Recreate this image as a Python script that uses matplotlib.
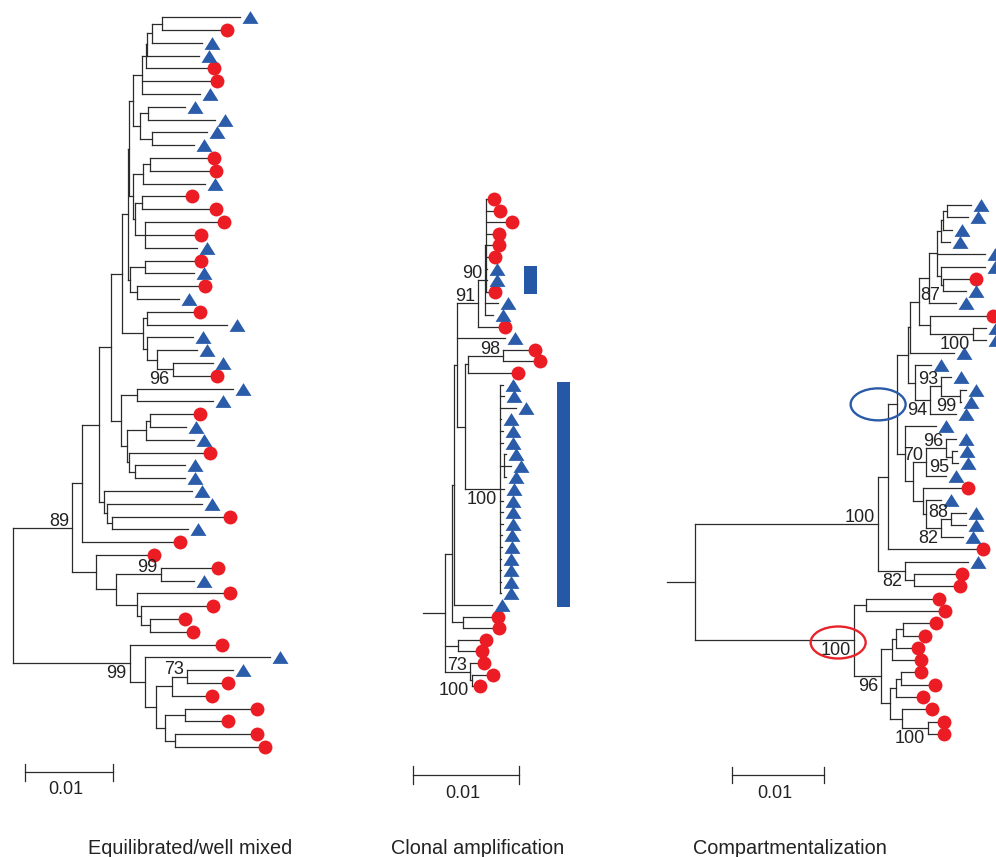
import matplotlib
matplotlib.use("Agg")
import matplotlib.pyplot as plt
from matplotlib.collections import LineCollection
from matplotlib.patches import Ellipse, Rectangle
from matplotlib.transforms import ScaledTranslation

# --- data -------------------------------------------------------------
# Newick trees, leaves named by compartment (R = red circle, B = blue triangle),
# internal labels = bootstrap support, branch lengths in units of 0.001 subst./site
BRANCH_UNIT = 0.001

TREE1 = (
    "((((((((("
    "(((((B:8.9,R:6.63):1.14,B:5.68):0.57,B:5.95):0.11,R:6.93):0.45,R:7.77,B:6.63):1.02,"
    "((B:4.17,B:7.58):0.95,(B:6.33,B:4.81):1.33):0.83):0.38,"
    "(((R:6.52,R:6.74):0.83,B:7.08):1.14,((R:4.92,R:7.69):0.76,(R:8.14,R:5.57,B:5.87):1.14):0.27):0.38"
    "):0.19,"
    "((R:5.57,B:5.57):1.70,(R:6.93,B:4.73):0.83):0.27"
    "):0.68,"
    "((R:5.30,B:9.09):0.45,(B:5.30,(B:4.55,(B:4.62,R:4.24)96:1.82):1.14):0.45):2.39"
    "):1.21,"
    "((B:10.9,B:8.64):1.89,(((R:4.92,B:4.09):0.49,B:5.49):2.16,(R:8.33,(B:5.68,B:5.68):0.64):0.30):0.68):1.10"
    "):1.33,"
    "(B:9.96,(B:10.8,(R:12.7,B:8.71):0.57):0.30):0.53"
    "):1.93,"
    "R:10.3):1.17,"
    "(R:5.76,((R:5.68,B:3.79)99:5.11,(R:9.77,(R:7.42,(R:3.22,R:4.09):1.06):0.45):2.39):2.23):2.73"
    ")89:6.74,"
    "(R:9.66,(B:14.2,(((B:5.19,R:3.86)73:1.70,R:3.67):1.89,((R:7.39,R:4.17):2.27,"
    "(R:8.52,R:9.47):1.14):1.02):1.25):1.70)99:13.3"
    ");"
)

TREE2 = (
    "(((("
    "(("
    "(R:0.09,R:0.66,R:1.82,R:0.63,R:0.63,R:0.25,B:0.1,B:0.1,R:0.25):0.06,B:1.26,B:0.72)90:0.63,R:1.89)91:2.04,"
    "B:4.56,"
    "(((R:2.36,R:2.83)98:3.30,R:3.99):0.31,"
    "(B:0.28,B:0.38,B:1.51,B:0.05,B:0.28,B:0.28,(B:0.19,B:0.66,B:0.19):0.38,B:0.38,B:0.28,"
    "B:0.28,B:0.28,B:0.19,B:0.19,B:0.05,B:0.05,B:0.05,B:0.05)100:3.30):0.79"
    "):0.22,"
    "B:3.52):0.25,"
    "(R:2.58,R:2.67):1.10):0.63,"
    "(R:2.04,R:1.64):1.19,"
    "(R:0.63,(R:1.35,R:0.09)100:0.16)73:2.36"
    "):2.04;"
)

TREE3 = (
    "(((((("
    "((("
    "(((B:2.64,B:2.28):0.43,B:1.01):0.18,B:0.91):0.54,"
    "B:5.25,"
    "(B:4.71,(R:2.83,B:2.54)87:0.18):0.54"
    "):0.80,"
    "B:2.97):1.09,"
    "(R:6.01,(B:1.45,B:1.45)100:4.64):1.23"
    "):1.01,"
    "B:4.78):0.18,"
    "(B:1.74,((B:1.09,(B:0.65,B:0.18)99:1.99)93:1.20,B:2.75)94:1.70):0.72"
    "):1.20,"
    "(B:3.30,(((B:1.09,(B:0.51,B:0.62)95:0.65)96:2.17,B:2.10)70:1.45,"
    "(R:4.06,(B:1.56,((B:1.56,B:1.56)88:1.09,B:2.36)82:1.63):0.36):1.09"
    "):0.83):0.91"
    "):0.98,"
    "R:9.53):1.09,"
    "(B:6.81,(R:4.46,R:4.28):0.91)82:2.97"
    ")100:19.9,"
    "((R:7.14,R:7.86):1.27,((((R:2.83,R:1.63):0.72,R:1.63):0.54,R:2.46):1.09,"
    "(((R:1.45,R:3.01):0.51,R:2.17):0.65,(R:2.54,(R:0.98,R:0.98)100:2.90):1.27):0.91)96:2.97)100:17.3"
    "):3.08;"
)

TITLES = ["Equilibrated/well mixed", "Clonal amplification", "Compartmentalization"]
SCALE_LEN = 0.01
CLONAL_BLOCKS = [(6, 8), (16, 35)]          # leaf ranges of tree 2 marked by bars
HIGHLIGHT = [((0, 0, 0), "#2a5aa8"), ((1,), "#e8242b")]   # tree 3 nodes circled

# --- style / layout ---------------------------------------------------
W, H = 996, 857
LINE = "#2b2b2b"
RED, BLUE = "#ec1c24", "#2a5caa"
LAYOUT = [
    dict(root_px=12.7, ppu=8800, top_px=17.3, step=12.8, bar=(25, 772)),
    dict(root_px=445, ppu=10600, top_px=199, step=11.6, bar=(413, 775)),
    dict(root_px=695, ppu=9200, top_px=205, step=12.3, bar=(732, 775)),
]
LABEL_SIDES = ["baaab", "aaabba", "bbbabbaaabbabbb"]
TITLE_X = [190, 478, 790]
TRI = [(0, 0.8), (-1, -0.8), (1, -0.8), (0, 0.8)]

plt.rcParams["font.family"] = ["Liberation Sans", "DejaVu Sans"]


def parse_newick(s):
    pos = 0

    def node():
        nonlocal pos
        children = []
        if s[pos] == "(":
            pos += 1
            while True:
                children.append(node())
                if s[pos] == ",":
                    pos += 1
                    continue
                break
            pos += 1
        start = pos
        while s[pos] not in ",():;":
            pos += 1
        name = s[start:pos]
        length = 0.0
        if s[pos] == ":":
            pos += 1
            start = pos
            while s[pos] not in ",();":
                pos += 1
            length = float(s[start:pos])
        return {"name": name, "len": length, "children": children}

    return node()


def draw_tree(ax, newick, lay, sides):
    root = parse_newick(newick)
    leaves, segs, labelled = [], [], []

    def walk(n, x):
        n["x"] = x
        for c in n["children"]:
            walk(c, x + c["len"] * BRANCH_UNIT)
        if n["children"]:
            kids = n["children"]
            n["y"] = (kids[0]["y"] + kids[-1]["y"]) / 2
            segs.append([(x, kids[0]["y"]), (x, kids[-1]["y"])])
            for c in kids:
                segs.append([(x, c["y"]), (c["x"], c["y"])])
            if n["name"]:
                labelled.append(n)
        else:
            n["y"] = len(leaves)
            leaves.append(n)

    walk(root, 0.0)
    if root["len"] > 0:
        segs.append([(-root["len"] * BRANCH_UNIT, root["y"]), (0, root["y"])])

    ax.add_collection(LineCollection(segs, colors=LINE, linewidths=0.9,
                                     capstyle="projecting"))

    for kind, color, marker, ms, dx in [("R", RED, "o", 10, 7), ("B", BLUE, TRI, 11.5, 10)]:
        pts = [l for l in leaves if l["name"] == kind]
        off = ax.transData + ScaledTranslation(dx / 100, 0, fig.dpi_scale_trans)
        ax.plot([p["x"] for p in pts], [p["y"] for p in pts], ls="none",
                marker=marker, ms=ms, color=color, mew=0, transform=off, zorder=3)

    for n, side in zip(labelled, sides):
        above = side == "a"
        ax.annotate(n["name"], (n["x"], n["y"]), xytext=(-3, 2 if above else -2),
                    textcoords="offset pixels", ha="right",
                    va="baseline" if above else "top", fontsize=13, color="#222222")

    ax.set_xlim(-lay["root_px"] / lay["ppu"], (W - lay["root_px"]) / lay["ppu"])
    ax.set_ylim((H - lay["top_px"]) / lay["step"], -lay["top_px"] / lay["step"])

    # scale bar
    bx = (lay["bar"][0] - lay["root_px"]) / lay["ppu"]
    by = (lay["bar"][1] - lay["top_px"]) / lay["step"]
    tk = 8.5 / lay["step"]
    ax.plot([bx, bx + SCALE_LEN], [by, by], color=LINE, lw=0.9)
    for xx in (bx, bx + SCALE_LEN):
        ax.plot([xx, xx], [by - tk, by + tk], color=LINE, lw=0.9)
    ax.annotate("0.01", (bx + SCALE_LEN / 2, by), xytext=(-3, -18),
                textcoords="offset pixels", ha="center", va="center",
                fontsize=13, color="#222222")
    ax.axis("off")
    return root


fig = plt.figure(figsize=(W / 100, H / 100), dpi=100)
trees = [TREE1, TREE2, TREE3]
axes = []
roots = []
for i, (tree, lay) in enumerate(zip(trees, LAYOUT)):
    ax = fig.add_axes([0, 0, 1, 1])
    roots.append(draw_tree(ax, tree, lay, LABEL_SIDES[i]))
    axes.append(ax)
    fig.text(TITLE_X[i] / W, 1 - 848 / H, TITLES[i], ha="center", va="center",
             fontsize=14.3, color="#222222")

# clonal bars beside tree 2
ax2, lay2 = axes[1], LAYOUT[1]
for (i0, i1), left_px in zip(CLONAL_BLOCKS, [524, 557]):
    x = (left_px - lay2["root_px"]) / lay2["ppu"]
    ax2.add_patch(Rectangle((x, i0 - 0.2), 13 / lay2["ppu"], i1 - i0 + 0.4,
                            color="#2559a7", lw=0))

# circled nodes in tree 3
ax3 = axes[2]
for (path, color), dx, dy in zip(HIGHLIGHT, [-0.19, -0.16], [0.0, -0.02]):
    n = roots[2]
    for k in path:
        n = n["children"][k]
    tr = fig.dpi_scale_trans + ScaledTranslation(n["x"], n["y"], ax3.transData)
    ax3.add_patch(Ellipse((dx, dy), 0.55, 0.32, transform=tr, fill=False,
                          edgecolor=color, lw=1.7, zorder=4))

fig.savefig("out.png", dpi=100)
